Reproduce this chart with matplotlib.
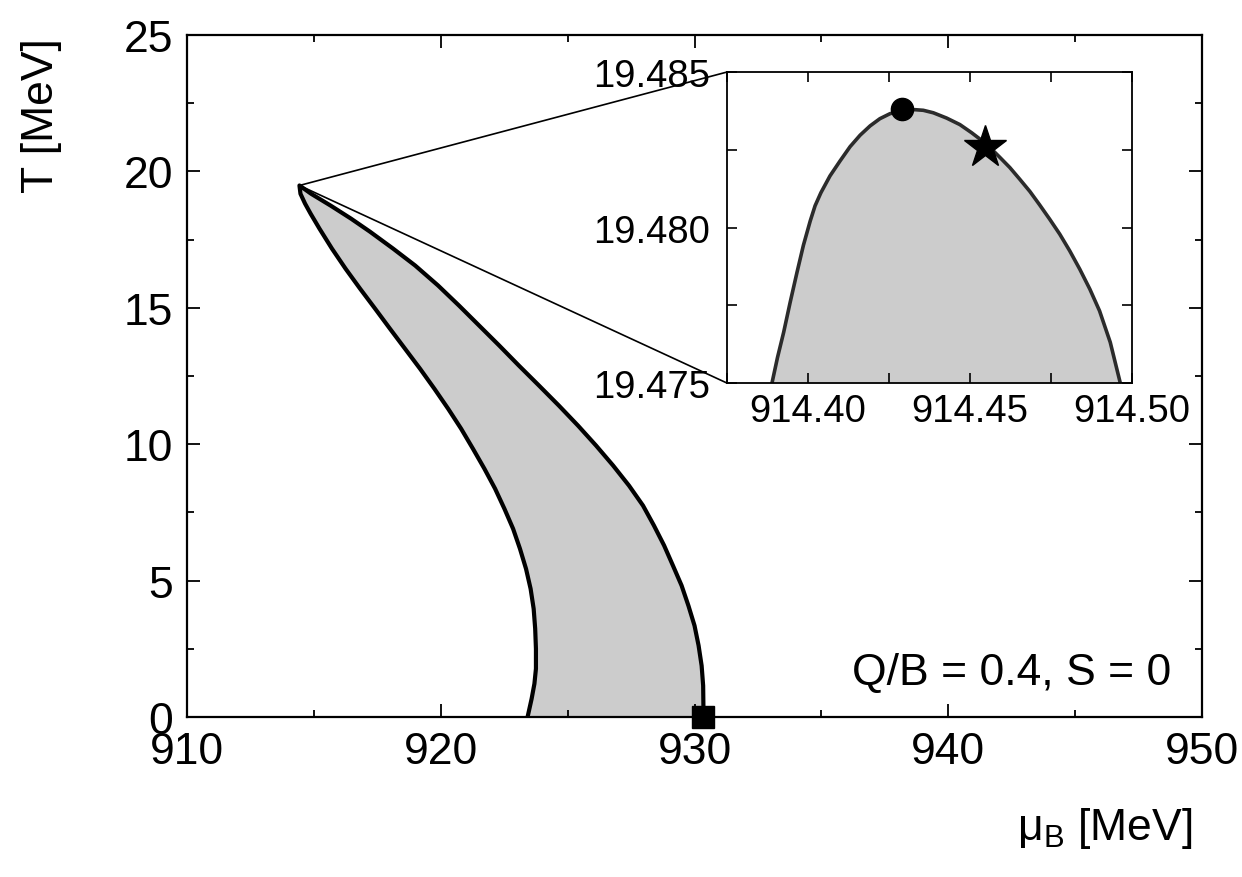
import numpy as np
import matplotlib
matplotlib.use("Agg")
import matplotlib.pyplot as plt
from matplotlib.ticker import MultipleLocator, FormatStrFormatter
from matplotlib.patches import ConnectionPatch

plt.rcParams['font.family'] = ['Liberation Sans', 'DejaVu Sans']
plt.rcParams['mathtext.fontset'] = 'custom'
plt.rcParams['mathtext.rm'] = 'Liberation Sans'

# phase boundary, main panel (mu_B, T) in MeV
# left branch, from T=0 up to the tip
left_mu = [923.42, 923.58, 923.69, 923.75, 923.75, 923.72, 923.66, 923.54,
           923.36, 923.12, 922.85, 922.51, 922.14, 921.72, 921.27, 920.80,
           920.29, 919.75, 919.18, 918.59, 918.00, 917.41, 916.82, 916.25,
           915.71, 915.22, 914.87, 914.65, 914.47, 914.43]
left_T = [0.0, 0.67, 1.22, 1.77, 2.50, 3.24, 3.97, 4.70,
          5.43, 6.17, 6.90, 7.63, 8.37, 9.10, 9.83, 10.57,
          11.30, 12.03, 12.77, 13.50, 14.23, 14.97, 15.70, 16.43,
          17.17, 17.90, 18.45, 18.82, 19.18, 19.484]
# right branch, from the tip down to T=0
right_mu = [914.43, 914.89, 915.67, 916.46, 917.21, 918.12, 918.99, 919.89,
            920.72, 921.51, 922.30, 923.08, 923.87, 924.66, 925.41, 926.12,
            926.79, 927.42, 927.97, 928.40, 928.80, 929.15, 929.49, 929.76,
            930.00, 930.16, 930.28, 930.34, 930.35, 930.35]
right_T = [19.484, 19.18, 18.74, 18.27, 17.79, 17.17, 16.55, 15.82,
           15.08, 14.35, 13.62, 12.88, 12.15, 11.41, 10.68, 9.95,
           9.22, 8.48, 7.75, 7.02, 6.29, 5.55, 4.82, 4.08,
           3.35, 2.62, 1.88, 1.15, 0.41, 0.0]

# zoom near the tip
tip_mu = [914.3889, 914.3906, 914.3925, 914.3945, 914.3966, 914.3986, 914.4007,
          914.4022, 914.4040, 914.4068, 914.4099, 914.4130, 914.4161, 914.4192,
          914.4222, 914.4253, 914.4284, 914.4310, 914.4330, 914.4356, 914.4387,
          914.4428, 914.4469, 914.4505, 914.4539, 914.4567, 914.4592, 914.4623,
          914.4654, 914.4685, 914.4715, 914.4746, 914.4777, 914.4808, 914.4839,
          914.4870, 914.4900, 914.4933, 914.4964]
tip_T = [19.47500, 19.47582, 19.47663, 19.47759, 19.47855, 19.47943, 19.48021,
         19.48070, 19.48112, 19.48166, 19.48214, 19.48260, 19.48297, 19.48327,
         19.48350, 19.48366, 19.48375, 19.48378, 19.48379, 19.48377, 19.48369,
         19.48352, 19.48331, 19.48305, 19.48278, 19.48252, 19.48226, 19.48193,
         19.48155, 19.48116, 19.48073, 19.48027, 19.47979, 19.47925, 19.47866,
         19.47802, 19.47732, 19.47631, 19.47500]

circle_pt = (914.429, 19.4838)
star_pt = (914.4545, 19.4826)
square_pt = (930.35, 0.0)

fig = plt.figure(figsize=(12.42, 8.78), dpi=100)
ax = fig.add_axes([0.1506, 0.1822, 0.8172, 0.7768])

mu = left_mu + right_mu[1:]
T = left_T + right_T[1:]
ax.fill(mu, T, color='#cccccc', lw=0, zorder=1)
ax.plot(mu, T, color='black', lw=3, solid_joinstyle='round', zorder=2)
ax.plot(*square_pt, marker='s', ms=16.5, color='black', clip_on=False, zorder=5)

ax.set_xlim(910, 950)
ax.set_ylim(0, 25)
ax.xaxis.set_major_locator(MultipleLocator(10))
ax.xaxis.set_minor_locator(MultipleLocator(5))
ax.yaxis.set_major_locator(MultipleLocator(5))
ax.yaxis.set_minor_locator(MultipleLocator(2.5))
ax.tick_params(which='both', direction='in', top=True, right=True, width=1.3,
               labelsize=32)
ax.tick_params(which='major', length=9.5, pad=10)
ax.tick_params(which='minor', length=5)
for s in ax.spines.values():
    s.set_linewidth(1.6)

ax.text(0.970, 0.049, "Q/B = 0.4, S = 0", transform=ax.transAxes,
        ha='right', va='baseline', fontsize=32)

fig.text(42 / 1242, 1 - 38 / 878, "T [MeV]", rotation=90, ha='center',
         va='top', fontsize=32)
fig.text(1192 / 1242, 1 - 840 / 878, r"μ$_\mathregular{B}$ [MeV]", ha='right',
         va='baseline', fontsize=32)

# inset
axi = fig.add_axes([0.5853, 0.5626, 0.3261, 0.3542])
axi.fill_between(tip_mu, tip_T, 19.475, color='#cccccc', lw=0, zorder=1)
axi.plot(tip_mu, tip_T, color='#2b2b2b', lw=2.6, solid_joinstyle='round',
         zorder=2)
axi.plot(*circle_pt, marker='o', ms=16, color='black', zorder=5)
axi.plot(*star_pt, marker='*', ms=32, color='black', zorder=5)
axi.set_xlim(914.375, 914.50)
axi.set_ylim(19.475, 19.485)
axi.xaxis.set_major_locator(MultipleLocator(0.05))
axi.xaxis.set_minor_locator(MultipleLocator(0.025))
axi.yaxis.set_major_locator(MultipleLocator(0.005))
axi.yaxis.set_minor_locator(MultipleLocator(0.0025))
axi.xaxis.set_major_formatter(FormatStrFormatter('%.2f'))
axi.yaxis.set_major_formatter(FormatStrFormatter('%.3f'))
axi.tick_params(which='both', direction='in', top=True, right=True, width=1.2,
                length=7, labelsize=27.5)
axi.tick_params(axis='x', pad=7)
axi.tick_params(axis='y', pad=12)
for s in axi.spines.values():
    s.set_linewidth(1.3)

# lines from the tip to the inset corners
for corner in [(0, 1), (0, 0)]:
    con = ConnectionPatch(xyA=(914.43, 19.484), coordsA=ax.transData,
                          xyB=corner, coordsB=axi.transAxes,
                          color='black', lw=1.2, zorder=3)
    con.set_clip_on(False)
    ax.add_artist(con)

fig.savefig("out.png", dpi=100)
